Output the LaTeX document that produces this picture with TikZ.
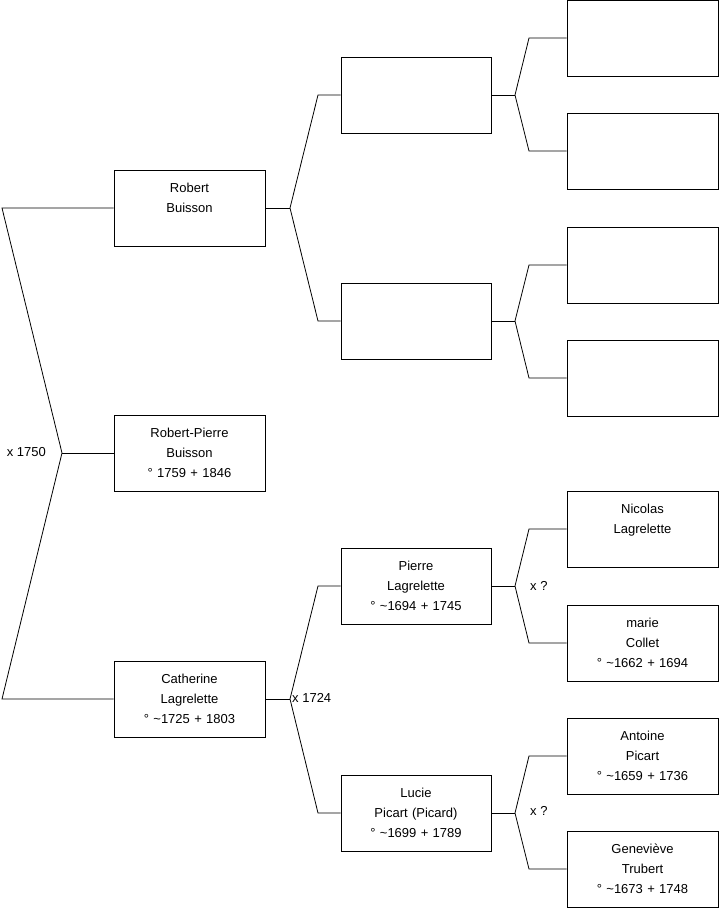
\documentclass[tikz,border=0pt]{standalone}
\usepackage{fontspec}
\setmainfont{Liberation Sans}
\usetikzlibrary{positioning}

\begin{document}
\begin{tikzpicture}[
    x=1pt, y=-1pt,
    person/.style={rectangle, draw, line width=1pt, minimum width=151pt, minimum height=76pt, inner sep=0pt, text width=145pt, align=center, font=\fontsize{13}{20}\selectfont},
    link/.style={line width=0.8pt},
    lbl/.style={inner sep=0pt, font=\fontsize{13}{14}\selectfont}
]
\useasboundingbox (0,0) rectangle (719,908);

% generation 1
\node[person] (robert) at (189.5,208) {Robert\\Buisson\\~};
\node[person] (robpierre) at (189.5,453) {Robert-Pierre\\Buisson\\° 1759 + 1846};
\node[person] (catherine) at (189.5,699) {Catherine\\Lagrelette\\° \textasciitilde1725 + 1803};

% generation 2
\node[person, minimum width=150pt] (rbfather) at (416,95) {};
\node[person, minimum width=150pt] (rbmother) at (416,321) {};
\node[person, minimum width=150pt] (pierre) at (416,586) {Pierre\\Lagrelette\\° \textasciitilde1694 + 1745};
\node[person, minimum width=150pt] (lucie) at (416,813) {Lucie\\Picart (Picard)\\° \textasciitilde1699 + 1789};

% generation 3
\node[person] (g1) at (642.5,38) {};
\node[person] (g2) at (642.5,151) {};
\node[person] (g3) at (642.5,265) {};
\node[person] (g4) at (642.5,378) {};
\node[person] (nicolas) at (642.5,529) {Nicolas\\Lagrelette\\~};
\node[person] (marie) at (642.5,643) {marie\\Collet\\° \textasciitilde1662 + 1694};
\node[person] (antoine) at (642.5,756) {Antoine\\Picart\\° \textasciitilde1659 + 1736};
\node[person] (genevieve) at (642.5,869) {Geneviève\\Trubert\\° \textasciitilde1673 + 1748};

% junctions
\coordinate (m0) at (62,453);
\coordinate (m0a) at (2,208);
\coordinate (m0b) at (2,699);
\coordinate (m1) at (290,208);
\coordinate (m1a) at (318,95);
\coordinate (m1b) at (318,321);
\coordinate (m2) at (290,699);
\coordinate (m2a) at (318,586);
\coordinate (m2b) at (318,813);
\coordinate (m3) at (515,95);
\coordinate (m3a) at (529,38);
\coordinate (m3b) at (529,151);
\coordinate (m4) at (515,321);
\coordinate (m4a) at (529,265);
\coordinate (m4b) at (529,378);
\coordinate (m5) at (515,586);
\coordinate (m5a) at (529,529);
\coordinate (m5b) at (529,643);
\coordinate (m6) at (515,813);
\coordinate (m6a) at (529,756);
\coordinate (m6b) at (529,869);

\draw[link] (robert.west) -- (m0a) -- (m0) -- (m0b) -- (catherine.west);
\draw[link] (m0) -- (robpierre.west);

\draw[link] (rbfather.west) -- (m1a) -- (m1) -- (m1b) -- (rbmother.west);
\draw[link] (robert.east) -- (m1);
\draw[link] (pierre.west) -- (m2a) -- (m2) -- (m2b) -- (lucie.west);
\draw[link] (catherine.east) -- (m2);

\draw[link] (g1.west) -- (m3a) -- (m3) -- (m3b) -- (g2.west);
\draw[link] (rbfather.east) -- (m3);
\draw[link] (g3.west) -- (m4a) -- (m4) -- (m4b) -- (g4.west);
\draw[link] (rbmother.east) -- (m4);
\draw[link] (nicolas.west) -- (m5a) -- (m5) -- (m5b) -- (marie.west);
\draw[link] (pierre.east) -- (m5);
\draw[link] (antoine.west) -- (m6a) -- (m6) -- (m6b) -- (genevieve.west);
\draw[link] (lucie.east) -- (m6);

% marriage labels
\node[lbl, anchor=east] (x1750) at (46,452) {x 1750};
\node[lbl, anchor=west] (x1724) at (292,698) {x 1724};
\node[lbl, anchor=west] (xq1) at (530,586) {x ?};
\node[lbl, anchor=west] (xq2) at (530,811) {x ?};
\end{tikzpicture}
\end{document}
